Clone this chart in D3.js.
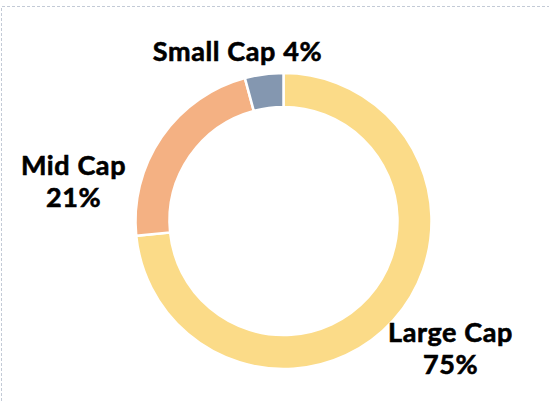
<!DOCTYPE html>
<html>
<head>
<meta charset="utf-8">
<script src="https://cdn.jsdelivr.net/npm/d3@7"></script>
<style>
  body { margin: 0; background: #fff; }
  svg { display: block; }
</style>
</head>
<body>
<div id="plot"></div>
<script>
// data
var categories = ["Large Cap", "Mid Cap", "Small Cap"];
var shares = [73.4, 22.4, 4.2];
var labelText = [["Large Cap", "75%"], ["Mid Cap", "21%"], ["Small Cap 4%"]];

var colors = ["#FBDB88", "#F4B183", "#8497B0"];
// where each label sits, relative to the donut centre
var labelPos = [[167, 121], [-210, -46], [-46, -160]];

var svgWidth = 549, svgHeight = 401;
var cx = 283.5, cy = 221;
var outerR = 148, innerR = 114;

var svg = d3.select("#plot")
    .append("svg")
    .attr("width", svgWidth)
    .attr("height", svgHeight);

// dashed frame (top + left)
svg.append("path")
    .attr("d", `M1.5,${svgHeight} L1.5,6.5 L${svgWidth},6.5`)
    .attr("fill", "none")
    .attr("stroke", "#C3CAD6")
    .attr("stroke-width", 1)
    .attr("stroke-dasharray", "3,2");

var chartGroup = svg.append("g")
    .attr("transform", `translate(${cx}, ${cy})`);

var pie = d3.pie().sort(null).value(d => d);
var arc = d3.arc().innerRadius(innerR).outerRadius(outerR);

var slices = pie(shares);

chartGroup.selectAll("path.slice")
    .data(slices)
    .enter().append("path")
    .attr("class", "slice")
    .attr("d", arc)
    .attr("fill", (d, i) => colors[i])
    .attr("stroke", "#fff")
    .attr("stroke-width", 2.5);

// labels
var labels = chartGroup.selectAll("text.lbl")
    .data(categories)
    .enter().append("text")
    .attr("class", "lbl")
    .attr("text-anchor", "middle")
    .attr("font-family", "Lato, 'DejaVu Sans', sans-serif")
    .attr("font-weight", "bold")
    .attr("font-size", "27px")
    .attr("letter-spacing", "0.6px")
    .attr("fill", "#000")
    .attr("stroke", "#000")
    .attr("stroke-width", 0.6)
    .attr("transform", (d, i) => `translate(${labelPos[i][0]}, ${labelPos[i][1]})`);

labels.each(function (d, i) {
    var t = d3.select(this);
    labelText[i].forEach(function (line, j) {
        t.append("tspan")
            .attr("x", 0)
            .attr("y", j * 32)
            .text(line);
    });
});
</script>
</body>
</html>
